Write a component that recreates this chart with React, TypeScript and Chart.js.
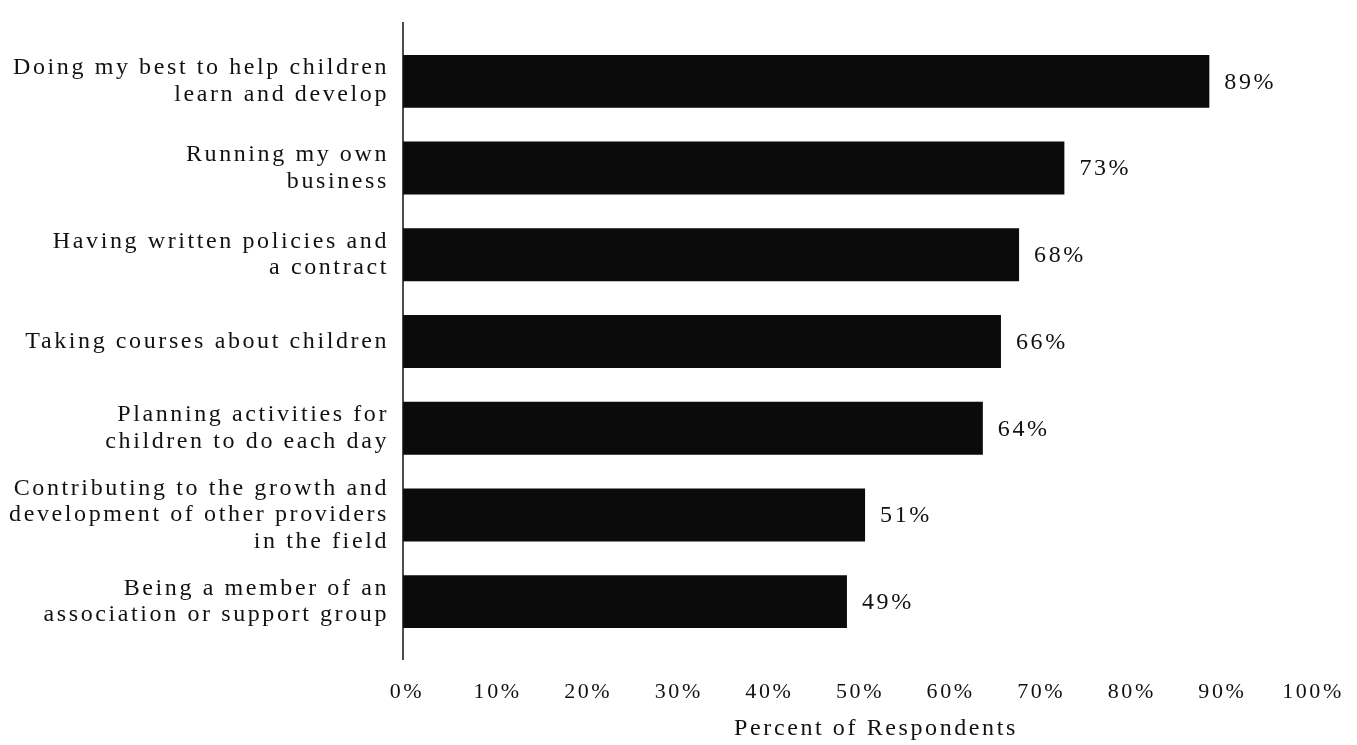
import React, { useEffect, useRef } from "react";
import { Chart, registerables } from "chart.js";

Chart.register(...registerables);

const categories: string[][] = [
  ["Doing my best to help children", "learn and develop"],
  ["Running my own", "business"],
  ["Having written policies and", "a contract"],
  ["Taking courses about children"],
  ["Planning activities for", "children to do each day"],
  ["Contributing to the growth and", "development of other providers", "in the field"],
  ["Being a member of an", "association or support group"],
];
const percentValues: number[] = [89, 73, 68, 66, 64, 51, 49];
const xTickValues: number[] = [0, 10, 20, 30, 40, 50, 60, 70, 80, 90, 100];
const xAxisTitle = "Percent of Respondents";

const FONT = "'Liberation Serif', 'Times New Roman', serif";
const SPACING = "2.6px";

export default function App() {
  const ref = useRef<HTMLCanvasElement | null>(null);

  useEffect(() => {
    if (!ref.current) return;

    const letterSpacingPlugin = {
      id: "letterSpacing",
      beforeDraw(chart: any) {
        (chart.ctx as any).letterSpacing = SPACING;
      },
    };

    const extrasPlugin = {
      id: "extras",
      afterDatasetsDraw(chart: any) {
        const ctx = chart.ctx;
        const meta = chart.getDatasetMeta(0);
        ctx.save();
        (ctx as any).letterSpacing = SPACING;
        ctx.fillStyle = "#111";
        ctx.font = `24px ${FONT}`;
        ctx.textAlign = "left";
        ctx.textBaseline = "middle";
        meta.data.forEach((bar: any, i: number) => {
          ctx.fillText(`${percentValues[i]}%`, bar.x + 15, bar.y + 1);
        });
        ctx.restore();
      },
      afterDraw(chart: any) {
        const ctx = chart.ctx;
        const left = chart.chartArea.left;
        ctx.save();
        ctx.strokeStyle = "#111";
        ctx.lineWidth = 1.5;
        ctx.beginPath();
        ctx.moveTo(left, 22);
        ctx.lineTo(left, 660);
        ctx.stroke();
        (ctx as any).letterSpacing = SPACING;
        ctx.fillStyle = "#111";
        ctx.font = `24px ${FONT}`;
        ctx.textAlign = "center";
        ctx.textBaseline = "middle";
        ctx.fillText(xAxisTitle, 876, 729);
        ctx.restore();
      },
    };

    const chart = new Chart(ref.current, {
      type: "bar",
      data: {
        labels: categories,
        datasets: [
          {
            data: percentValues,
            backgroundColor: "#0b0b0b",
            borderWidth: 0,
            barPercentage: 0.61,
            categoryPercentage: 1,
          },
        ],
      },
      options: {
        indexAxis: "y",
        responsive: false,
        animation: false,
        devicePixelRatio: 1,
        layout: { padding: { top: 38, right: 48, bottom: 0, left: 0 } },
        plugins: {
          legend: { display: false },
          tooltip: { enabled: false },
          title: { display: false },
        },
        scales: {
          x: {
            min: 0,
            max: 100,
            afterFit(scale: any) {
              scale.height = 100;
              scale.paddingLeft = 0;
              scale.paddingRight = 0;
            },
            afterBuildTicks(scale: any) {
              scale.ticks = xTickValues.map((v) => ({ value: v }));
            },
            grid: { display: false, drawTicks: false },
            border: { display: false },
            ticks: {
              padding: 34,
              labelOffset: 4,
              color: "#111",
              font: { family: FONT, size: 22 },
              maxRotation: 0,
              autoSkip: false,
              callback: (v: any) => `${v}%`,
            },
          },
          y: {
            afterFit(scale: any) {
              scale.width = 403;
              scale.paddingTop = 0;
              scale.paddingBottom = 0;
            },
            grid: { display: false, drawTicks: false },
            border: { display: false },
            ticks: {
              padding: 14,
              color: "#111",
              font: { family: FONT, size: 24, lineHeight: 1.1 },
              autoSkip: false,
            },
          },
        },
      },
      plugins: [letterSpacingPlugin, extrasPlugin],
    } as any);

    return () => chart.destroy();
  }, []);

  return (
    <div
      style={{
        position: "fixed",
        left: 0,
        top: 0,
        width: 1357,
        height: 745,
        background: "#fff",
      }}
    >
      <canvas ref={ref} width={1357} height={745} style={{ display: "block" }} />
    </div>
  );
}
